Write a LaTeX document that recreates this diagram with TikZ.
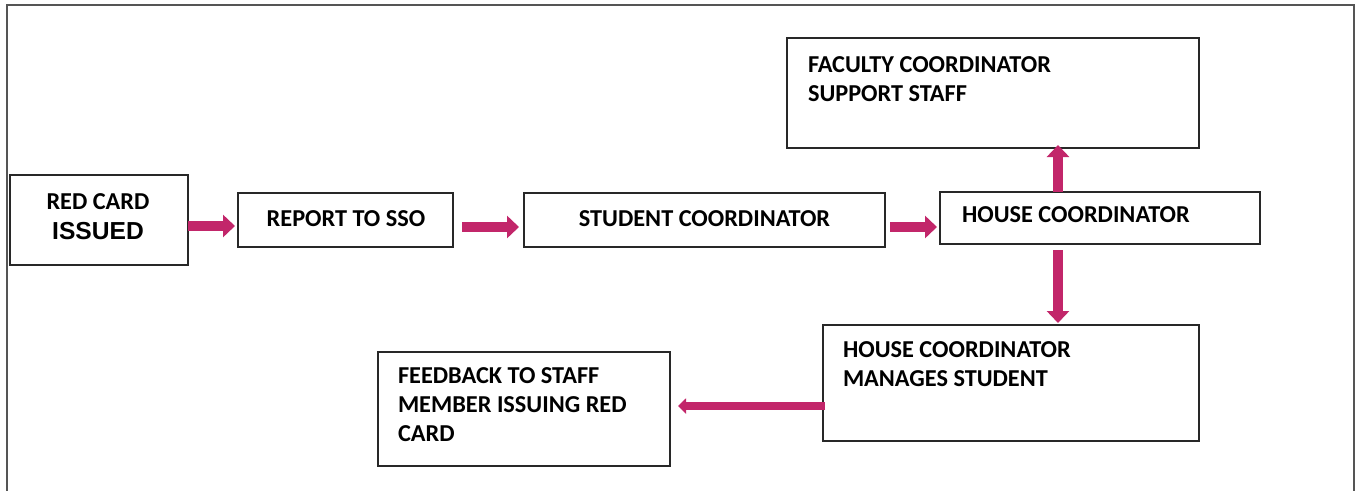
\documentclass[tikz,border=0pt]{standalone}
\usepackage{fontspec}
\setmainfont{Carlito}
\newfontfamily\arialfont{Liberation Sans}
\usetikzlibrary{arrows.meta}
\definecolor{flowpink}{RGB}{194,38,106}
\definecolor{framegray}{RGB}{85,85,85}
\definecolor{boxline}{RGB}{40,40,40}
\begin{document}
\begin{tikzpicture}[x=1pt,y=-1pt,
  stepbox/.style={draw=boxline,line width=1.3pt,inner sep=0pt,outer sep=0pt,rectangle},
  label text/.style={inner sep=0pt,outer sep=0pt,anchor=north west,align=left,
    font=\fontsize{24.3}{29}\selectfont\bfseries},
  center text/.style={inner sep=0pt,outer sep=0pt,anchor=base,align=center,
    font=\fontsize{24.3}{29}\selectfont\bfseries},
  blockarrow/.style={draw=flowpink,line width=10pt,
    -{Triangle[width=22pt,length=12pt]}},
  thinarrow/.style={draw=flowpink,line width=8pt,
    -{Triangle[width=15pt,length=8pt]}}]
\useasboundingbox (0,0) rectangle (1360,490);
% outer frame, open at the bottom
\draw[framegray,line width=2pt] (6.5,500) -- (6.5,5) -- (1354,5) -- (1354,500);

% boxes
\node[stepbox,minimum width=178pt,minimum height=90pt] (red) at (99,220) {};
\node[stepbox,minimum width=215pt,minimum height=54pt] (sso) at (345.5,220) {};
\node[stepbox,minimum width=361pt,minimum height=54pt] (stu) at (704.5,220) {};
\node[stepbox,minimum width=320pt,minimum height=52pt] (house) at (1100,218) {};
\node[stepbox,minimum width=412pt,minimum height=110pt] (fac) at (993,93) {};
\node[stepbox,minimum width=376pt,minimum height=116pt] (mgr) at (1011,383) {};
\node[stepbox,minimum width=292pt,minimum height=114pt] (fb) at (524,409) {};

% texts
\node[center text] (redt1) at (98,209) {RED CARD};
\node[center text,font=\arialfont\fontsize{24.6}{29}\selectfont\bfseries] (redt2) at (98,239) {ISSUED};
\node[center text] (ssot) at (346,226) {REPORT TO SSO};
\node[center text] (stut) at (704.5,226) {STUDENT COORDINATOR};
\node[label text] (houset) at (962,206.5) {HOUSE COORDINATOR};
\node[label text] (fact) at (808,57) {FACULTY COORDINATOR\\SUPPORT STAFF};
\node[label text] (mgrt) at (843,342) {HOUSE COORDINATOR\\MANAGES STUDENT};
\node[label text] (fbt) at (398,368) {FEEDBACK TO STAFF\\MEMBER ISSUING RED\\CARD};

% connectors
\draw[blockarrow,shorten >=3pt] ([yshift=-6pt]red.east) -- ([yshift=-6pt]sso.west);
\draw[blockarrow,shorten <=9pt,shorten >=5pt] ([yshift=-7pt]sso.east) -- ([yshift=-7pt]stu.west);
\draw[blockarrow,shorten <=5pt,shorten >=3pt] ([yshift=-7pt]stu.east) -- ([yshift=-7pt]stu.east -| house.west);
\draw[blockarrow,shorten >=-3pt] ([xshift=-42pt]house.north) -- ([xshift=-42pt]house.north |- fac.south);
\draw[blockarrow,shorten <=6pt,shorten >=2pt] ([xshift=-42pt]house.south) -- ([xshift=-42pt]house.south |- mgr.north);
\draw[thinarrow,shorten <=-2pt,shorten >=8pt] ([yshift=-23pt]mgr.west) -- ([yshift=-23pt]mgr.west -| fb.east);
\end{tikzpicture}
\end{document}
